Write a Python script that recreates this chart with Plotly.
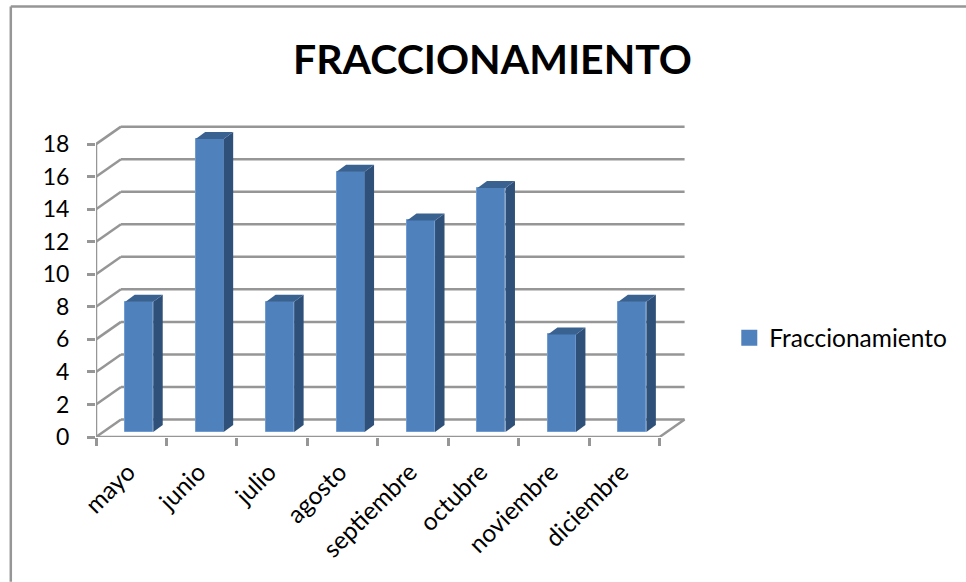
import plotly.graph_objects as go

months = ["mayo", "junio", "julio", "agosto", "septiembre", "octubre", "noviembre", "diciembre"]
values = [8, 18, 8, 16, 13, 15, 6, 8]
series_name = "Fraccionamiento"
title_text = "FRACCIONAMIENTO"
y_ticks = list(range(0, 20, 2))

W, H = 966, 582
PX_X0, PX_X1 = 95.7, 659.3      # front plane, horizontal span
PX_Y0, PX_Y18 = 437.2, 144.2    # front plane, value 0 and 18
PX_BACK_X, PX_BACK_Y = 25.0, 17.5
PX_BAR_OFF_X, PX_BAR_OFF_Y = 8.0, 5.0
PX_BAR_W, PX_DEPTH_X, PX_DEPTH_Y = 28.0, 9.5, 7.0
FONT = "Lato"

ux = (PX_X1 - PX_X0) / len(months)
uy = (PX_Y0 - PX_Y18) / 18
back_x, back_y = PX_BACK_X / ux, PX_BACK_Y / uy
off_x, off_y = PX_BAR_OFF_X / ux, PX_BAR_OFF_Y / uy
bar_w = PX_BAR_W / ux
dep_x, dep_y = PX_DEPTH_X / ux, PX_DEPTH_Y / uy

x_lo = -0.5
x_hi = len(months) - 0.5 + back_x + 0.02
y_hi = 18 + back_y + 0.1

ml = PX_X0
mr = W - (PX_X0 + (x_hi - x_lo) * ux)
mb = H - PX_Y0
mt = PX_Y0 - y_hi * uy

fig = go.Figure()

# walls: gridlines, drawn under the bars
GRID = dict(color="#969696", width=2.5)
shapes = []
right = len(months) - 0.5
for t in y_ticks:
    shapes.append(dict(type="line", layer="below", xref="x", yref="y", x0=x_lo, y0=t,
                       x1=x_lo + back_x, y1=t + back_y, line=GRID))
    shapes.append(dict(type="line", layer="below", xref="x", yref="y", x0=x_lo + back_x, y0=t + back_y,
                       x1=right + back_x, y1=t + back_y, line=GRID))
shapes.append(dict(type="line", layer="below", xref="x", yref="y", x0=x_lo, y0=0, x1=x_lo, y1=18, line=GRID))
shapes.append(dict(type="line", layer="below", xref="x", yref="y", x0=x_lo, y0=0, x1=right, y1=0, line=GRID))
shapes.append(dict(type="line", layer="below", xref="x", yref="y", x0=right, y0=0,
                   x1=right + back_x, y1=back_y, line=GRID))

# outer frame: only top and left are visible in the picture
FRAME = dict(color="#969696", width=2.5)
def px(x): return (x - ml) / (W - ml - mr)
def py(y): return 1 - (y - mt) / (H - mt - mb)
shapes.append(dict(type="line", xref="paper", yref="paper", x0=px(10.5), y0=py(6.5), x1=px(W), y1=py(6.5), line=FRAME))
shapes.append(dict(type="line", xref="paper", yref="paper", x0=px(10.5), y0=py(6.5), x1=px(10.5), y1=py(H), line=FRAME))

# side and top faces of each bar
for i, v in enumerate(values):
    xl = i + off_x - bar_w / 2
    xr = i + off_x + bar_w / 2
    y0 = off_y
    y1 = off_y + v
    fig.add_trace(go.Scatter(
        x=[xr, xr + dep_x, xr + dep_x, xr, xr], y=[y0, y0 + dep_y, y1 + dep_y, y1, y0],
        mode="lines", fill="toself", fillcolor="#2f5179", line=dict(width=0),
        showlegend=False, hoverinfo="skip"))
    fig.add_trace(go.Scatter(
        x=[xl, xl + dep_x, xr + dep_x, xr, xl], y=[y1, y1 + dep_y, y1 + dep_y, y1, y1],
        mode="lines", fill="toself", fillcolor="#3a6291", line=dict(width=0),
        showlegend=False, hoverinfo="skip"))

# front faces
fig.add_trace(go.Bar(
    x=[i + off_x for i in range(len(months))], y=values, base=off_y, width=bar_w,
    marker=dict(color="#4f81bd", line=dict(color="#6f9bd0", width=1)),
    showlegend=False, name=series_name))

# legend entry
fig.add_trace(go.Scatter(
    x=[None], y=[None], mode="markers", name=series_name,
    marker=dict(symbol="square", size=16, color="#4f81bd")))

fig.update_layout(
    width=W, height=H, autosize=False,
    paper_bgcolor="white", plot_bgcolor="white",
    margin=dict(l=ml, r=mr, t=mt, b=mb, pad=0),
    font=dict(family=FONT, color="black", size=22),
    title=dict(text=title_text, x=492.5 / W, xanchor="center", y=1 - 60 / H, yanchor="middle",
               font=dict(family=FONT, size=41, color="black", weight="bold")),
    shapes=shapes,
    showlegend=True,
    legend=dict(x=(729 - ml) / (W - ml - mr), y=py(338), xanchor="left", yanchor="middle",
                font=dict(family=FONT, size=24.5, color="black"), bgcolor="rgba(0,0,0,0)"),
    bargap=0,
)
fig.update_xaxes(
    range=[x_lo, x_hi], tickmode="array", tickvals=list(range(len(months))), ticktext=months,
    tickangle=-45, ticks="", showgrid=False, zeroline=False, showline=False,
    ticklabelstandoff=15, ticklabelshift=-3,
    tickfont=dict(family=FONT, size=24.5, color="black"),
    minor=dict(tickmode="array", tickvals=[i - 0.5 for i in range(len(months) + 1)],
               ticks="outside", ticklen=8, tickwidth=2.5, tickcolor="#969696", showgrid=False))
fig.update_yaxes(
    range=[0, y_hi], tickmode="array", tickvals=y_ticks, ticks="outside", ticklen=8, tickwidth=2.5,
    tickcolor="#969696", showgrid=False, zeroline=False, showline=False, ticklabelstandoff=13,
    tickfont=dict(family=FONT, size=23, color="black"))

fig.write_html("out.html", config={"displayModeBar": False},
               post_script="document.body.style.margin='0';document.body.style.overflow='hidden';")
